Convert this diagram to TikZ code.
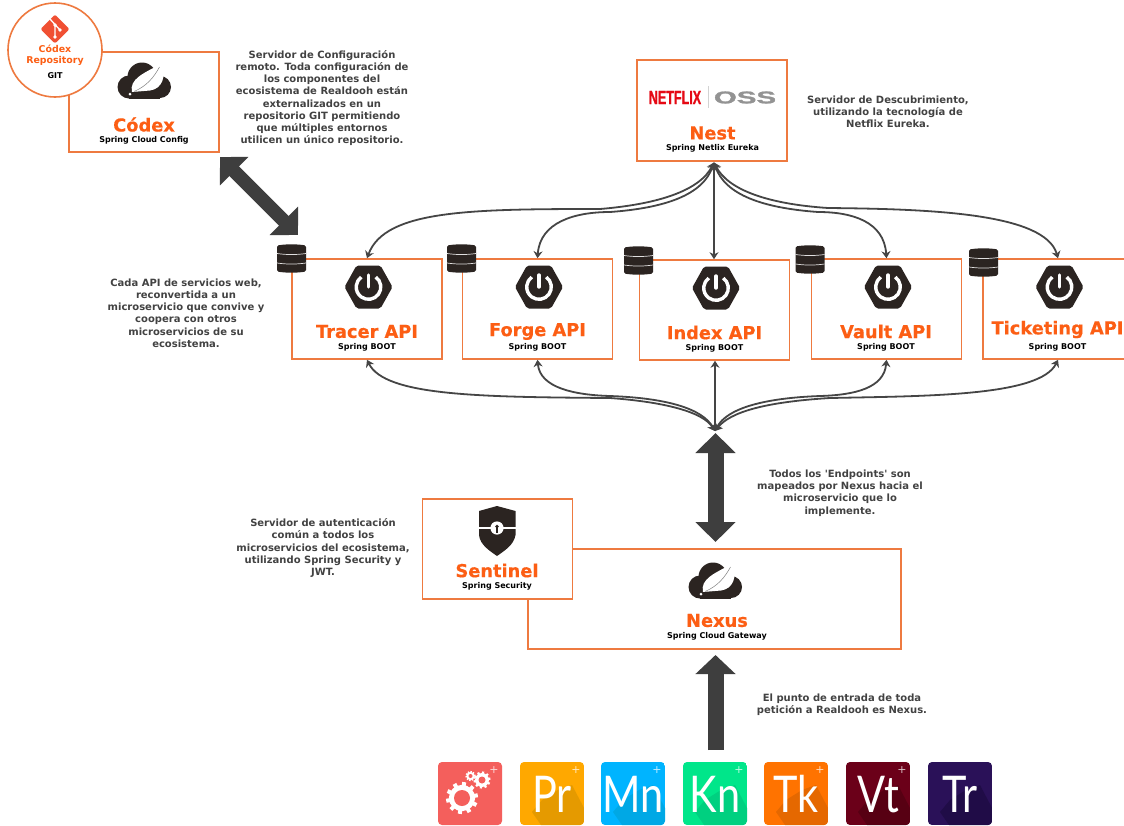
\documentclass[tikz,border=0pt]{standalone}
\usepackage{fontspec}
\usepackage{graphicx}
\setmainfont{DejaVu Sans}
\newfontfamily\iconfont{Lato}
\newfontfamily\netfont[FakeBold=1.2]{Liberation Sans}
\newfontfamily\titlefont[FakeBold=0.5]{DejaVu Sans}[UprightFont=* Bold]
\usetikzlibrary{arrows.meta,calc}
\definecolor{boxline}{HTML}{EE7A40}
\definecolor{titleor}{HTML}{FC5E14}
\definecolor{desc}{HTML}{424242}
\definecolor{darkicon}{HTML}{2B2421}
\definecolor{flowc}{HTML}{454545}
\definecolor{bigc}{HTML}{3E3E3E}
\definecolor{gitc}{HTML}{F05033}
\definecolor{netc}{HTML}{E50914}
\definecolor{iconbg}{HTML}{F45F5C}
\definecolor{prA}{HTML}{FFA800}\definecolor{prB}{HTML}{E59A00}
\definecolor{mnA}{HTML}{00B4FF}\definecolor{mnB}{HTML}{00A8E5}
\definecolor{knA}{HTML}{00E68A}\definecolor{knB}{HTML}{00D080}
\definecolor{tkA}{HTML}{FF7300}\definecolor{tkB}{HTML}{E56800}
\definecolor{vtA}{HTML}{6B0019}\definecolor{vtB}{HTML}{570013}
\definecolor{trA}{HTML}{2A1158}\definecolor{trB}{HTML}{200C47}
\tikzset{
  box/.style={draw=boxline,line width=1.6pt,fill=white,minimum width=150pt,minimum height=100pt,inner sep=0pt},
  title/.style={text=titleor,inner sep=0pt,font=\fontsize{17.8}{20}\selectfont\titlefont},
  sub/.style={text=black,inner sep=0pt,font=\fontsize{8}{10}\selectfont\bfseries},
  note/.style={text=desc,inner sep=0pt,align=center,font=\fontsize{10}{12.2}\selectfont\bfseries},
  flow/.style={draw=flowc,line width=1.8pt,{Stealth[length=7pt,width=9pt]}-{Stealth[length=7pt,width=9pt]}},
  bigboth/.style={draw=bigc,line width=#1,{Triangle[length=20pt,width=39pt]}-{Triangle[length=20pt,width=39pt]}},
  bigone/.style={draw=bigc,line width=16pt,-{Triangle[length=19pt,width=39pt]}},
  tile/.style={rounded corners=4pt},
  pics/cloudicon/.style={code={
    \fill[darkicon] (-15,-6) circle (11.5);
    \fill[darkicon] (-2,4) circle (14.5);
    \fill[darkicon] (16,-6) circle (11);
    \fill[darkicon] (-15,-17.5) rectangle (16,-5);
    \fill[darkicon] (-2,-10) rectangle (14,10);
    \fill[white] (-12,-11) .. controls (-15,2) and (0,8) .. (17,17) .. controls (23,5) and (18,-8) .. (6,-9.5) -- cycle;
    \draw[gray,line width=.5pt] (-10,-10.5) .. controls (3,-5) and (10,4) .. (15.5,14);
    \fill[white] (-14,-13) circle (1.5);
  }},
  pics/bootpower/.style={code={
    \fill[darkicon,rounded corners=2pt] (-24,0) -- (-12,21.5) -- (12,21.5) -- (24,0) -- (12,-21.5) -- (-12,-21.5) -- cycle;
    \draw[white,line width=3.4pt] (54:12.3) arc[start angle=54,end angle=-234,radius=12.3];
    \draw[white,line width=3.4pt,line cap=round] (0,12) -- (0,0);
  }},
  pics/dbicon/.style={code={
    \fill[darkicon,rounded corners=1.5pt] (-14.5,-13) .. controls (-5,-14.5) and (5,-14.5) .. (14.5,-13) -- (14.5,13) .. controls (5,14.5) and (-5,14.5) .. (-14.5,13) -- cycle;
    \draw[white!85!darkicon,line width=.7pt] (-14.5,5) .. controls (-5,3.6) and (5,3.6) .. (14.5,5);
    \draw[white!85!darkicon,line width=.7pt] (-14.5,-4.5) .. controls (-5,-5.9) and (5,-5.9) .. (14.5,-4.5);
  }},
  pics/gearicon/.style args={#1/#2/#3}{code={
    \foreach \a in {0,36,...,324}{\draw[white,line width=#3] (0,0) -- (\a+10:#1);}
    \fill[white] (0,0) circle ({#1*0.82});
    \fill[iconbg] (0,0) circle (#2);
  }}
}
\newcommand{\apptile}[6]{% x, base, shadow, label, plus, name
  \begin{scope}
    \clip[tile] (#1,-762) rectangle ++(64,-63);
    \fill[#2] (#1,-762) rectangle ++(64,-63);
    \fill[#3] ({#1+12},-812) -- ({#1+21},-825) -- ({#1+64},-825) -- ({#1+64},-808) -- ({#1+52},-785) -- ({#1+38},-790) -- ({#1+22},-800) -- cycle;
  \end{scope}
  \node[text=white,inner sep=0pt,anchor=base,font=\fontsize{46}{46}\selectfont\iconfont] (#6) at ({#1+32},-812) {\scalebox{.9}[1.1]{#4}};
  #5
}
\newcommand{\tileplus}[1]{\node[text=white,opacity=.75,inner sep=0pt,font=\fontsize{11}{11}\selectfont] at ({#1+56},-770) {+};}
\begin{document}
\begin{tikzpicture}[x=1pt,y=1pt]
\clip (0,0) rectangle (1124,-825);
\fill[white] (0,0) rectangle (1124,-825);

% boxes
\node[box] (codex) at (144,-102) {};
\node[box,minimum width=150pt,minimum height=101pt] (nest) at (712,-110.5) {};
\node[box] (tracer) at (367,-309) {};
\node[box] (forge) at (537.5,-309) {};
\node[box] (index) at (714.5,-310) {};
\node[box] (vault) at (886.5,-309) {};
\node[box] (ticket) at (1058,-309) {};
\node[box,minimum width=373pt] (nexus) at (714.5,-599) {};
\node[box] (sentinel) at (497.5,-549) {};
\node[draw=boxline,line width=1.6pt,fill=white,circle,minimum size=94pt,inner sep=0pt] (repo) at (55,-50) {};

% hubs and free ends
\coordinate (hubT) at (714,-162.5);
\coordinate (hubB) at (715,-431);
\coordinate (cfgA) at (220,-157);
\coordinate (cfgB) at (298,-235);
\coordinate (gwA) at (715.5,-433);
\coordinate (gwB) at (715.5,-542);
\coordinate (inA) at (715.5,-750);
\coordinate (inB) at (715.5,-655);

% connectors top
\draw[flow] (hubT) .. controls (700,-190) and (660,-204) .. (600,-209) .. controls (470,-209) and (385,-210) .. (tracer.north);
\draw[flow] (hubT) .. controls (703,-195) and (665,-208) .. (610,-212) .. controls (575,-212) and (540,-222) .. (forge.north);
\draw[flow] (hubT) -- (hubT |- index.north);
\draw[flow] (hubT) .. controls (725,-195) and (763,-208) .. (818,-212) .. controls (853,-212) and (884,-222) .. (vault.north);
\draw[flow] (hubT) .. controls (728,-190) and (768,-204) .. (828,-208) .. controls (930,-209) and (1045,-213) .. (ticket.north);

% connectors bottom
\draw[flow] (hubB) .. controls (703,-412) and (665,-402) .. (610,-398) .. controls (480,-397) and (385,-396) .. (tracer.south);
\draw[flow] (hubB) .. controls (702,-408) and (665,-398) .. (610,-396) .. controls (575,-395) and (540,-388) .. (forge.south);
\draw[flow] (hubB) -- (hubB |- index.south);
\draw[flow] (hubB) .. controls (727,-408) and (765,-398) .. (820,-396) .. controls (855,-395) and (884,-388) .. (vault.south);
\draw[flow] (hubB) .. controls (730,-412) and (765,-402) .. (830,-398) .. controls (930,-396) and (1040,-396) .. (ticket.south);

% heavy arrows
\draw[bigboth=13.5pt] (cfgA) -- (cfgB);
\draw[bigboth=16pt] (gwA) -- (gwB);
\draw[bigone] (inA) -- (inB);

% db icons
\pic at (291.5,-258.5) {dbicon};
\pic at (461.5,-258.5) {dbicon};
\pic at (638.5,-260.5) {dbicon};
\pic at (810,-259.5) {dbicon};
\pic at (983.5,-262.5) {dbicon};

% boot icons
\pic at (368.5,-287) {bootpower};
\pic at (539,-287) {bootpower};
\pic at (716,-288) {bootpower};
\pic at (888,-287) {bootpower};
\pic at (1059.5,-287) {bootpower};

% cloud icons
\pic at (144,-81) {cloudicon};
\pic at (715,-581) {cloudicon};

% shield
\fill[darkicon] (497,-506) -- (479,-511) -- (479,-535) .. controls (480,-545) and (490,-551) .. (497,-556) .. controls (504,-551) and (514,-545) .. (515.5,-535) -- (515.5,-511) -- cycle;
\fill[white] (479,-526.8) rectangle (515.5,-529.2);
\fill[white] (497,-528) circle (6.6);
\fill[darkicon] (497,-526.5) circle (1.9);
\fill[darkicon] (496.3,-527) rectangle (497.7,-532.5);

% git diamond
\fill[gitc,rounded corners=2pt] (55,-14.5) -- (69.5,-29) -- (55,-43.5) -- (40.5,-29) -- cycle;
\draw[white,line width=1.3pt] (50,-19) -- (60,-30) (55,-25) -- (55,-37);
\fill[white] (60,-30) circle (1.9) (55,-25) circle (1.9) (55,-37) circle (1.9);

% netflix logo
\node[text=netc,inner sep=0pt,font=\fontsize{19}{19}\selectfont\netfont\bfseries] (netflix) at (675,-97.5) {\scalebox{.66}[1]{NETFLIX}};
\draw[gray!35,line width=.6pt] (708,-86) -- (708,-108);
\node[text=gray!85,inner sep=0pt,font=\fontsize{19}{19}\selectfont\netfont\bfseries] (oss) at (745,-97.5) {\scalebox{1.55}[.9]{OSS}};

% texts
\node[inner sep=0pt,text=titleor,align=center,font=\fontsize{9.4}{11.4}\selectfont\bfseries] (repotitle) at (55,-55.5) {Códex\\Repository};
\node[sub] (repogit) at (55,-76) {GIT};

\node[title] (t1) at (144,-124.5) {Códex};
\node[sub] (s1) at (144,-140) {Spring Cloud Config};
\node[title] (t2) at (712.5,-133) {Nest};
\node[sub] (s2) at (712.5,-148) {Spring Netlix Eureka};
\node[title] (t3) at (367,-331.5) {Tracer API};
\node[sub] (s3) at (367,-347) {Spring BOOT};
\node[title] (t4) at (537.5,-331.5) {Forge API};
\node[sub] (s4) at (537.5,-347) {Spring BOOT};
\node[title] (t5) at (714.5,-332.5) {Index API};
\node[sub] (s5) at (714.5,-348) {Spring BOOT};
\node[title] (t6) at (886,-331.5) {Vault API};
\node[sub] (s6) at (886,-347) {Spring BOOT};
\node[title] (t7) at (1057.5,-329.5) {Ticketing API};
\node[sub] (s7) at (1057.5,-347) {Spring BOOT};
\node[title] (t8) at (497,-570.5) {Sentinel};
\node[sub] (s8) at (497,-586) {Spring Security};
\node[title] (t9) at (717,-620.5) {Nexus};
\node[sub] (s9) at (717,-636) {Spring Cloud Gateway};

\node[note] (n1) at (322,-98) {Servidor de Configuración\\remoto. Toda configuración de\\los componentes del\\ecosistema de Realdooh están\\externalizados en un\\repositorio GIT permitiendo\\que múltiples entornos\\utilicen un único repositorio.};
\node[note] (n2) at (888,-112) {Servidor de Descubrimiento,\\utilizando la tecnología de\\Netflix Eureka.};
\node[note] (n3) at (186,-313) {Cada API de servicios web,\\reconvertida a un\\microservicio que convive y\\coopera con otros\\microservicios de su\\ecosistema.};
\node[note] (n4) at (323,-548) {Servidor de autenticación\\común a todos los\\microservicios del ecosistema,\\utilizando Spring Security y\\JWT.};
\node[note] (n5) at (840,-493) {Todos los \textquotesingle Endpoints\textquotesingle{} son\\mapeados por Nexus hacia el\\microservicio que lo\\implemente.};
\node[note] (n6) at (842,-705) {El punto de entrada de toda\\petición a Realdooh es Nexus.};

% app tiles
\fill[iconbg,tile] (438,-762) rectangle ++(64,-63);
\pic at (462,-798) {gearicon=16/8/4pt};
\pic at (482,-780) {gearicon=8.5/3.5/2.2pt};
\pic at (470.5,-776) {gearicon=5/2/1.4pt};
\tileplus{438}
\apptile{520}{prA}{prB}{Pr}{\tileplus{520}}{tPr}
\apptile{601}{mnA}{mnB}{Mn}{\tileplus{601}}{tMn}
\apptile{683}{knA}{knB}{Kn}{\tileplus{683}}{tKn}
\apptile{764}{tkA}{tkB}{Tk}{\tileplus{764}}{tTk}
\apptile{846}{vtA}{vtB}{Vt}{\tileplus{846}}{tVt}
\apptile{928}{trA}{trB}{Tr}{}{tTr}
\end{tikzpicture}
\end{document}
